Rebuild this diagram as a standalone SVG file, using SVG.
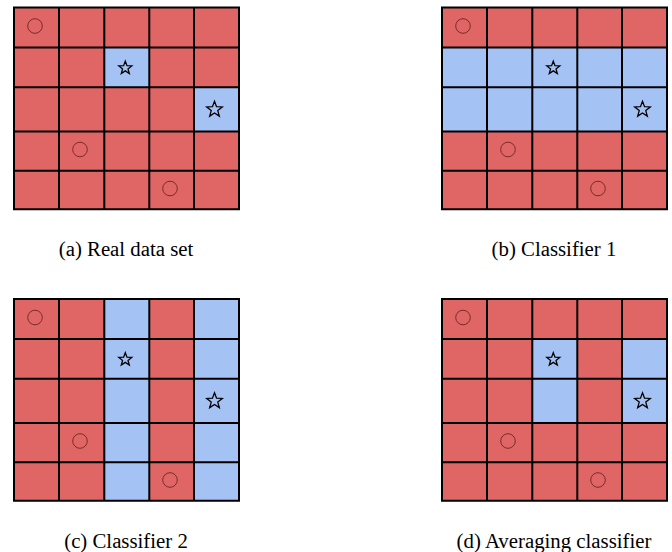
<svg xmlns="http://www.w3.org/2000/svg" xmlns:xlink="http://www.w3.org/1999/xlink" width="672" height="552" viewBox="0 0 672 552">
<style>
.red{fill:#E06666}
.blue{fill:#A4C2F4}
.grid{fill:none;stroke:#000;stroke-width:2;stroke-linecap:square}
.circ{fill:none;stroke:#7a2a2a;stroke-width:1}
.star{fill:#A4C2F4;stroke:#000;stroke-width:1.3;stroke-linejoin:miter}
.cap{font-family:"Liberation Serif","Times New Roman",serif;font-size:20.8px;fill:#000;text-anchor:middle}
</style>
<defs>
<path id="grid" class="grid" d="M14 7.5H239V209.2H14Z M59 7.5V209.2 M104.3 7.5V209.2 M149.3 7.5V209.2 M194 7.5V209.2 M14 47.5H239 M14 87.2H239 M14 131.5H239 M14 170.7H239"/>
<polygon id="starS" class="star" points="0,-6.8 1.68,-2.31 6.47,-2.1 2.71,0.88 4,5.5 0,2.86 -4,5.5 -2.71,0.88 -6.47,-2.1 -1.68,-2.31"/>
<polygon id="starL" class="star" points="0,-8.2 2.03,-2.79 7.8,-2.53 3.27,1.07 4.82,6.63 0,3.44 -4.82,6.63 -3.27,1.07 -7.8,-2.53 -2.03,-2.79"/>
<g id="marks">
<circle class="circ" cx="35" cy="26" r="7.3"/>
<circle class="circ" cx="80" cy="149.5" r="7.3"/>
<circle class="circ" cx="170" cy="188.5" r="7.3"/>
<use xlink:href="#starS" href="#starS" x="125.3" y="68"/>
<use xlink:href="#starL" href="#starL" x="214.5" y="109.5"/>
</g>
</defs>

<g id="panel-a">
<rect class="red" x="14" y="7.5" width="225" height="201.7"/>
<rect class="blue" x="104.3" y="47.5" width="45" height="39.7"/>
<rect class="blue" x="194" y="87.2" width="45" height="44.3"/>
<use xlink:href="#grid" href="#grid"/>
<use xlink:href="#marks" href="#marks"/>
<text class="cap" x="126" y="256">(a) Real data set</text>
</g>

<g id="panel-b" transform="translate(428,0)">
<rect class="red" x="14" y="7.5" width="225" height="201.7"/>
<rect class="blue" x="14" y="47.5" width="225" height="84"/>
<use xlink:href="#grid" href="#grid"/>
<use xlink:href="#marks" href="#marks"/>
<text class="cap" x="126" y="256">(b) Classifier 1</text>
</g>

<g id="panel-c" transform="translate(0,291.5)">
<rect class="red" x="14" y="7.5" width="225" height="201.7"/>
<rect class="blue" x="104.3" y="7.5" width="45" height="201.7"/>
<rect class="blue" x="194" y="7.5" width="45" height="201.7"/>
<use xlink:href="#grid" href="#grid"/>
<use xlink:href="#marks" href="#marks"/>
<text class="cap" x="126" y="256">(c) Classifier 2</text>
</g>

<g id="panel-d" transform="translate(428,291.5)">
<rect class="red" x="14" y="7.5" width="225" height="201.7"/>
<rect class="blue" x="104.3" y="47.5" width="45" height="84"/>
<rect class="blue" x="194" y="47.5" width="45" height="84"/>
<use xlink:href="#grid" href="#grid"/>
<use xlink:href="#marks" href="#marks"/>
<text class="cap" x="126" y="256">(d) Averaging classifier</text>
</g>

<g id="connectors"></g>
</svg>
